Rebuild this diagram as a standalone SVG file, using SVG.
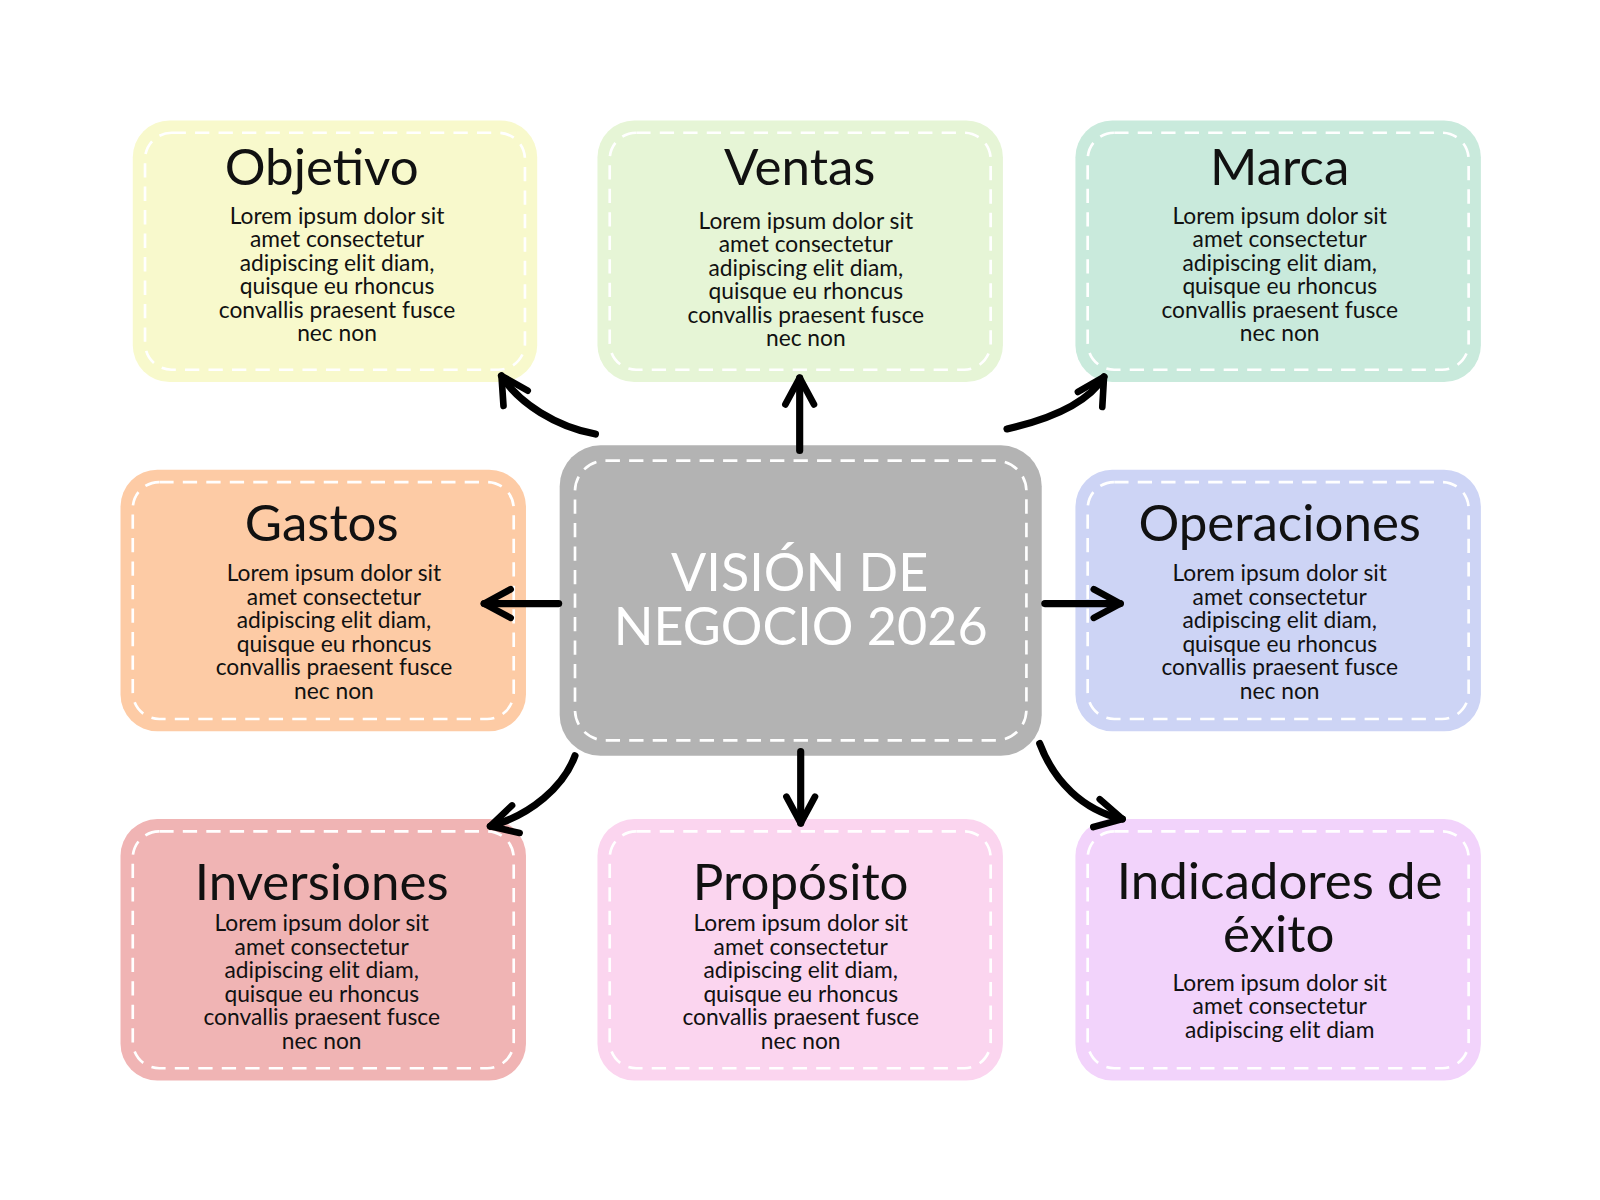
<svg xmlns="http://www.w3.org/2000/svg" width="1600" height="1200" viewBox="0 0 1600 1200">
<style>
.box{stroke:none}
.dash{fill:none;stroke:#ffffff;stroke-width:2.6;stroke-dasharray:14 9}
.title{font-family:Lato,"Noto Sans",sans-serif;font-size:50px;fill:#111;text-anchor:middle}
.body{font-family:Lato,"Noto Sans",sans-serif;font-size:22.3px;fill:#111;text-anchor:middle}
.center{font-family:Lato,"Noto Sans",sans-serif;font-size:51px;fill:#ffffff;text-anchor:middle}
.arr{fill:none;stroke:#000;stroke-width:7;stroke-linecap:round;marker-end:url(#head)}
</style>
<defs>
<marker id="head" viewBox="-32 -20 36 40" markerWidth="36" markerHeight="40" refX="0" refY="0" orient="auto" markerUnits="userSpaceOnUse">
<path d="M-26,-14 L0,0 L-26,14" fill="none" stroke="#000" stroke-width="6.5" stroke-linecap="round" stroke-linejoin="round"/>
</marker>
</defs>
<rect width="1600" height="1200" fill="#ffffff"/>
<g transform="scale(1.0213)">

<g id="objetivo">
<rect class="box" x="130" y="118" width="396" height="256" rx="36" fill="#f8f9cc"/>
<rect class="dash" x="142" y="130" width="372" height="232" rx="26"/>
<text class="title" x="315" y="181">Objetivo</text>
<text class="body"><tspan x="330" y="219">Lorem ipsum dolor sit</tspan><tspan x="330" y="242">amet consectetur</tspan><tspan x="330" y="265">adipiscing elit diam,</tspan><tspan x="330" y="288">quisque eu rhoncus</tspan><tspan x="330" y="311">convallis praesent fusce</tspan><tspan x="330" y="334">nec non</tspan></text>
</g>

<g id="ventas">
<rect class="box" x="585" y="118" width="397" height="256" rx="36" fill="#e6f5d6"/>
<rect class="dash" x="597" y="130" width="373" height="232" rx="26"/>
<text class="title" x="783" y="181">Ventas</text>
<text class="body"><tspan x="789" y="224">Lorem ipsum dolor sit</tspan><tspan x="789" y="247">amet consectetur</tspan><tspan x="789" y="270">adipiscing elit diam,</tspan><tspan x="789" y="293">quisque eu rhoncus</tspan><tspan x="789" y="316">convallis praesent fusce</tspan><tspan x="789" y="339">nec non</tspan></text>
</g>

<g id="marca">
<rect class="box" x="1053" y="118" width="397" height="256" rx="36" fill="#c9eadc"/>
<rect class="dash" x="1065" y="130" width="373" height="232" rx="26"/>
<text class="title" x="1253" y="181">Marca</text>
<text class="body"><tspan x="1253" y="219">Lorem ipsum dolor sit</tspan><tspan x="1253" y="242">amet consectetur</tspan><tspan x="1253" y="265">adipiscing elit diam,</tspan><tspan x="1253" y="288">quisque eu rhoncus</tspan><tspan x="1253" y="311">convallis praesent fusce</tspan><tspan x="1253" y="334">nec non</tspan></text>
</g>

<g id="gastos">
<rect class="box" x="118" y="460" width="397" height="256" rx="36" fill="#fdcba5"/>
<rect class="dash" x="130" y="472" width="373" height="232" rx="26"/>
<text class="title" x="315" y="530">Gastos</text>
<text class="body"><tspan x="327" y="569">Lorem ipsum dolor sit</tspan><tspan x="327" y="592">amet consectetur</tspan><tspan x="327" y="615">adipiscing elit diam,</tspan><tspan x="327" y="638">quisque eu rhoncus</tspan><tspan x="327" y="661">convallis praesent fusce</tspan><tspan x="327" y="684">nec non</tspan></text>
</g>

<g id="vision">
<rect class="box" x="548" y="436" width="472" height="304" rx="40" fill="#b3b3b3"/>
<rect class="dash" x="563" y="451" width="442" height="274" rx="30" stroke-width="3"/>
<text class="center" x="783" y="579">VISIÓN DE</text>
<text class="center" x="784" y="632">NEGOCIO 2026</text>
</g>

<g id="operaciones">
<rect class="box" x="1053" y="460" width="397" height="256" rx="36" fill="#cdd4f5"/>
<rect class="dash" x="1065" y="472" width="373" height="232" rx="26"/>
<text class="title" x="1253" y="530">Operaciones</text>
<text class="body"><tspan x="1253" y="569">Lorem ipsum dolor sit</tspan><tspan x="1253" y="592">amet consectetur</tspan><tspan x="1253" y="615">adipiscing elit diam,</tspan><tspan x="1253" y="638">quisque eu rhoncus</tspan><tspan x="1253" y="661">convallis praesent fusce</tspan><tspan x="1253" y="684">nec non</tspan></text>
</g>

<g id="inversiones">
<rect class="box" x="118" y="802" width="397" height="256" rx="36" fill="#f0b4b4"/>
<rect class="dash" x="130" y="814" width="373" height="232" rx="26"/>
<text class="title" x="315" y="881">Inversiones</text>
<text class="body"><tspan x="315" y="912">Lorem ipsum dolor sit</tspan><tspan x="315" y="935">amet consectetur</tspan><tspan x="315" y="958">adipiscing elit diam,</tspan><tspan x="315" y="981">quisque eu rhoncus</tspan><tspan x="315" y="1004">convallis praesent fusce</tspan><tspan x="315" y="1027">nec non</tspan></text>
</g>

<g id="proposito">
<rect class="box" x="585" y="802" width="397" height="256" rx="36" fill="#fbd5ef"/>
<rect class="dash" x="597" y="814" width="373" height="232" rx="26"/>
<text class="title" x="784" y="881">Propósito</text>
<text class="body"><tspan x="784" y="912">Lorem ipsum dolor sit</tspan><tspan x="784" y="935">amet consectetur</tspan><tspan x="784" y="958">adipiscing elit diam,</tspan><tspan x="784" y="981">quisque eu rhoncus</tspan><tspan x="784" y="1004">convallis praesent fusce</tspan><tspan x="784" y="1027">nec non</tspan></text>
</g>

<g id="indicadores">
<rect class="box" x="1053" y="802" width="397" height="256" rx="36" fill="#f2d3fb"/>
<rect class="dash" x="1065" y="814" width="373" height="232" rx="26"/>
<text class="title"><tspan x="1253" y="880">Indicadores de</tspan><tspan x="1252" y="932">éxito</tspan></text>
<text class="body"><tspan x="1253" y="970">Lorem ipsum dolor sit</tspan><tspan x="1253" y="993">amet consectetur</tspan><tspan x="1253" y="1016">adipiscing elit diam</tspan></text>
</g>

<g id="connectors">
<path class="arr" d="M583,425 C545,418 508,395 491,368"/>
<path class="arr" d="M783,441 L783,370"/>
<path class="arr" d="M986,420 C1030,410 1065,395 1081,369"/>
<path class="arr" d="M547,591 L474,591"/>
<path class="arr" d="M1023,591 L1097,591"/>
<path class="arr" d="M563,740 C552,770 520,798 480,809"/>
<path class="arr" d="M784,736 L784,806"/>
<path class="arr" d="M1018,728 C1032,765 1060,793 1099,802"/>
</g>
</g>
</svg>
